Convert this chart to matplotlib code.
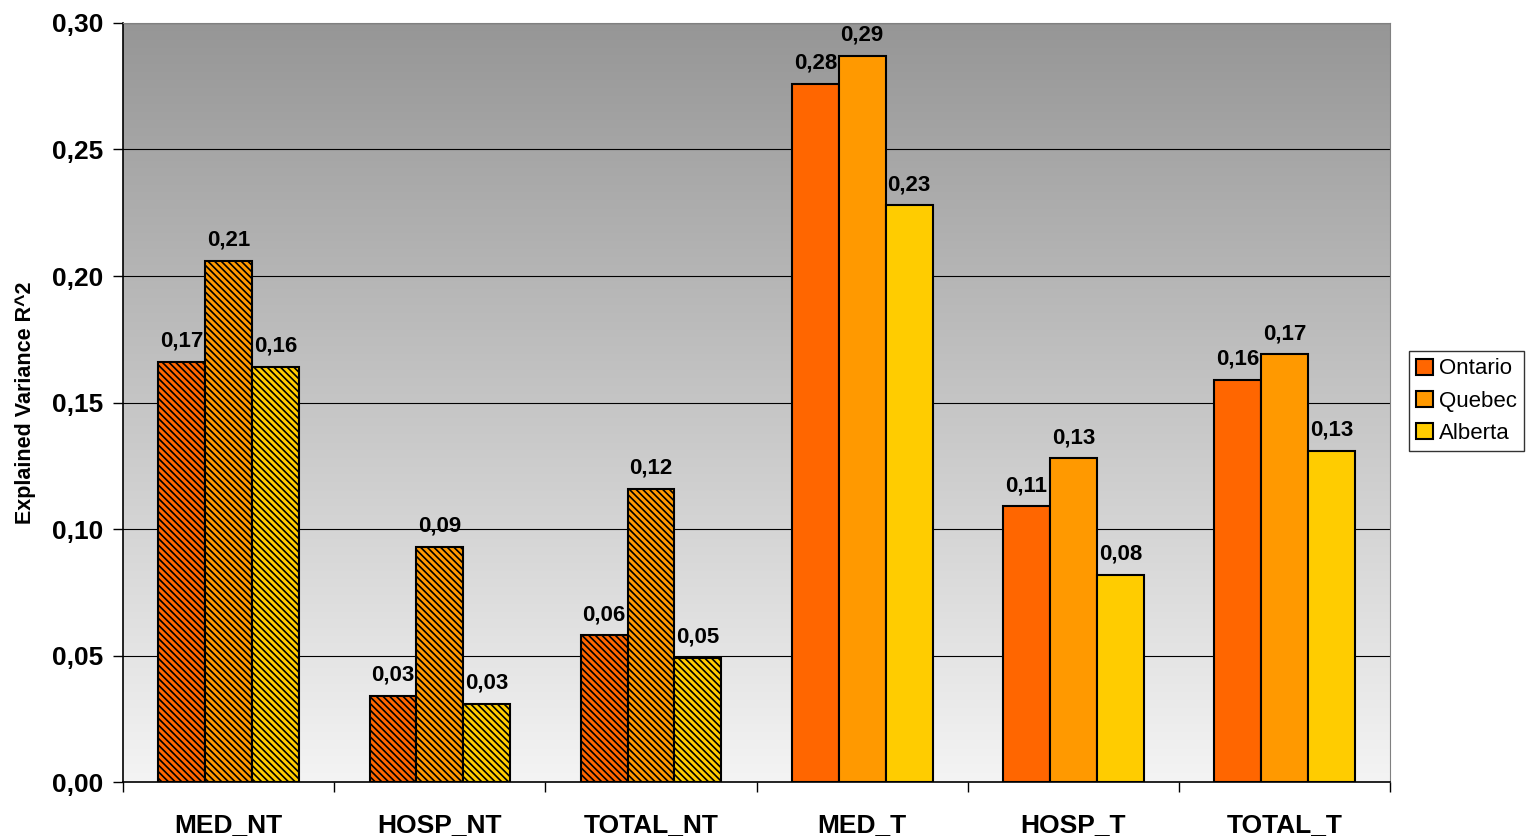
import matplotlib.pyplot as plt
import numpy as np

plt.rcParams['font.family'] = ['Liberation Sans', 'DejaVu Sans']
plt.rcParams['hatch.linewidth'] = 1.2

categories = ['MED_NT', 'HOSP_NT', 'TOTAL_NT', 'MED_T', 'HOSP_T', 'TOTAL_T']
hatched = [True, True, True, False, False, False]
provinces = ['Ontario', 'Quebec', 'Alberta']
colors = ['#FF6600', '#FF9900', '#FFCC00']

ontario = [0.166, 0.034, 0.058, 0.276, 0.109, 0.159]
quebec = [0.206, 0.093, 0.116, 0.287, 0.128, 0.169]
alberta = [0.164, 0.031, 0.049, 0.228, 0.082, 0.131]
series = [ontario, quebec, alberta]

fig = plt.figure(figsize=(15.36, 8.39), dpi=100)
ax = fig.add_axes([0.0801, 0.0679, 0.825, 0.9047])

ymax = 0.30
x = np.arange(len(categories))
ax.set_xlim(-0.5, len(categories) - 0.5)
ax.set_ylim(0, ymax)

# light at the bottom, grey at the top
grad = np.linspace(0, 1, 256).reshape(-1, 1)
cmap = plt.matplotlib.colors.LinearSegmentedColormap.from_list('bg', ['#f4f4f4', '#969696'])
ax.imshow(grad, cmap=cmap, aspect='auto', origin='lower',
          extent=(-0.5, len(categories) - 0.5, 0, ymax), zorder=0)

for yv in np.arange(0.05, 0.30 + 1e-9, 0.05):
    ax.axhline(yv, color='black', lw=0.8, zorder=1)

w = 0.222
for i, (vals, col) in enumerate(zip(series, colors)):
    pos = x + (i - 1) * w
    for p, v, h in zip(pos, vals, hatched):
        ax.bar(p, v, w, color=col, edgecolor='black', linewidth=1.5,
               hatch='\\\\\\\\\\' if h else None, zorder=2)
        ax.text(p, v + 0.004, f'{v:.2f}'.replace('.', ','), ha='center',
                va='bottom', fontsize=16, fontweight='bold', zorder=3)

ticks = np.arange(0, 0.301, 0.05)
ax.set_yticks(ticks)
ax.set_yticklabels([f'{t:.2f}'.replace('.', ',') for t in ticks],
                   fontsize=19, fontweight='bold')
ax.set_xticks(x)
ax.set_xticklabels(categories, fontsize=19, fontweight='bold')
ax.set_xticks(np.arange(-0.5, len(categories)), minor=True)
ax.tick_params(axis='x', which='major', length=0, pad=22)
ax.tick_params(axis='x', which='minor', length=7, width=1)
ax.tick_params(axis='y', length=7, width=1, pad=7)
ax.set_ylabel('Explained Variance R^2', fontsize=15.5, fontweight='bold', labelpad=12)

for s in ['top', 'right']:
    ax.spines[s].set_color('#808080')
for s in ['left', 'bottom']:
    ax.spines[s].set_color('black')
    ax.spines[s].set_linewidth(1.2)

handles = [plt.Rectangle((0, 0), 1, 1, facecolor=c, edgecolor='black', lw=1.5)
           for c in colors]
leg = fig.legend(handles, provinces, loc='upper left', bbox_to_anchor=(0.917, 0.582),
                 fontsize=16, frameon=True, fancybox=False, edgecolor='black',
                 handlelength=0.75, handleheight=0.75, handletextpad=0.25,
                 borderpad=0.35, labelspacing=0.5, borderaxespad=0)
leg.get_frame().set_linewidth(1.0)

fig.savefig('out.png', dpi=100)
